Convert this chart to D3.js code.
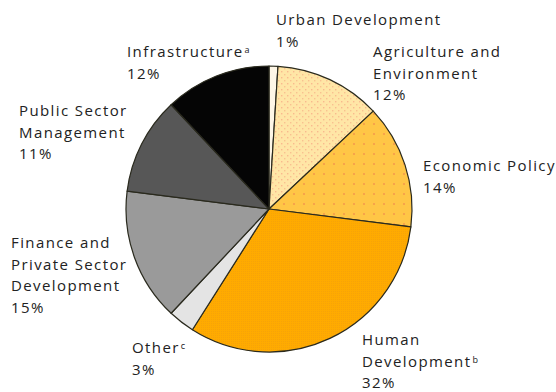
<!DOCTYPE html>
<html>
<head>
<meta charset="utf-8">
<script src="https://cdn.jsdelivr.net/npm/d3@7"></script>
<style>
  html, body { margin: 0; padding: 0; background: #fff; }
  svg { display: block; }
  text { font-family: "Open Sans", "Noto Sans", sans-serif; font-size: 15px; fill: #222; letter-spacing: 1.4px; }
</style>
</head>
<body>
<svg id="chart" width="556" height="392"></svg>
<script>
// ---- data ----
const categories = ["Urban Development", "Agriculture and Environment", "Economic Policy",
  "Human Development", "Other", "Finance and Private Sector Development",
  "Public Sector Management", "Infrastructure"];
const values = [1, 12, 14, 32, 3, 15, 11, 12];
const labelLines = [
  ["Urban Development", "1%"],
  ["Agriculture and", "Environment", "12%"],
  ["Economic Policy", "14%"],
  ["Human", "Development|b", "32%"],
  ["Other|c", "3%"],
  ["Finance and", "Private Sector", "Development", "15%"],
  ["Public Sector", "Management", "11%"],
  ["Infrastructure|a", "12%"]
];
const fills = ["#fdf6e6", "url(#patAgri)", "url(#patEcon)", "url(#patHuman)",
  "#e4e4e4", "#9a9a9a", "#575757", "#050505"];
// label anchor positions (x, first-line center y)
const labelPos = [[276, 20], [373, 52], [423, 166], [362, 340], [132, 348], [11, 243], [19, 111], [127, 52]];

// ---- chart ----
const svg = d3.select("#chart");
const defs = svg.append("defs");

const pa = defs.append("pattern").attr("id", "patAgri").attr("patternUnits", "userSpaceOnUse")
  .attr("width", 6).attr("height", 6);
pa.append("rect").attr("width", 6).attr("height", 6).attr("fill", "#ffe6a6");
pa.append("rect").attr("x", 0).attr("y", 0).attr("width", 1.4).attr("height", 1.4).attr("fill", "#f9b98e");
pa.append("rect").attr("x", 3).attr("y", 3).attr("width", 1.4).attr("height", 1.4).attr("fill", "#f9c190");

const pe = defs.append("pattern").attr("id", "patEcon").attr("patternUnits", "userSpaceOnUse")
  .attr("width", 10).attr("height", 10);
pe.append("rect").attr("width", 10).attr("height", 10).attr("fill", "#ffc646");
pe.append("rect").attr("x", 4).attr("y", 4).attr("width", 2).attr("height", 2).attr("fill", "#f7a34a");

const ph = defs.append("pattern").attr("id", "patHuman").attr("patternUnits", "userSpaceOnUse")
  .attr("width", 2).attr("height", 2);
ph.append("rect").attr("width", 2).attr("height", 2).attr("fill", "#ffab00");
ph.append("rect").attr("width", 1).attr("height", 1).attr("fill", "#f7a308");

const cx = 269, cy = 209, r = 143;
const pie = d3.pie().sort(null).value(d => d)(values);
const arc = d3.arc().innerRadius(0).outerRadius(r);

const g = svg.append("g").attr("transform", `translate(${cx},${cy})`);
g.selectAll("path").data(pie).join("path")
  .attr("d", arc)
  .attr("fill", (d, i) => fills[i])
  .attr("stroke", "#2a2a1e")
  .attr("stroke-width", 1.2)
  .attr("stroke-linejoin", "round");

// ---- labels ----
const lineH = 21.5;
labelLines.forEach((lines, i) => {
  const [x, y0] = labelPos[i];
  const t = svg.append("text").attr("x", x).attr("y", y0);
  lines.forEach((ln, j) => {
    const [main, sup] = ln.split("|");
    t.append("tspan").attr("x", x).attr("y", y0 + j * lineH).attr("dy", "0.35em").text(main);
    if (sup) {
      t.append("tspan").attr("dy", "-0.45em").attr("dx", 1).style("font-size", "9px").text(sup);
    }
  });
});
</script>
</body>
</html>
